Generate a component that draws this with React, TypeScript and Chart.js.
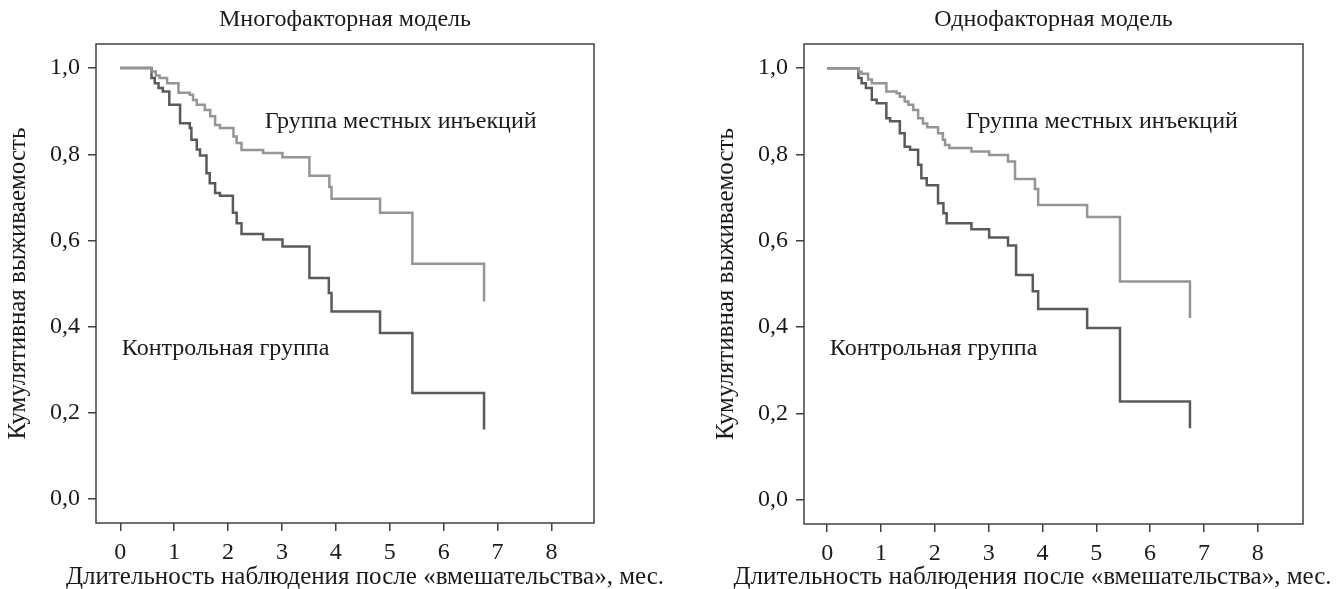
import React, { useEffect, useRef } from 'react';
import { Chart, registerables } from 'chart.js';

Chart.register(...registerables);

// ---- text ----
const titleMulti = 'Многофакторная модель';
const titleUni = 'Однофакторная модель';
const xAxisTitle = 'Длительность наблюдения после «вмешательства», мес.';
const yAxisTitle = 'Кумулятивная выживаемость';
const labelInjection = 'Группа местных инъекций';
const labelControl = 'Контрольная группа';

// ---- ticks ----
const xTickValues = [0, 1, 2, 3, 4, 5, 6, 7, 8];
const yTickValues = [0, 0.2, 0.4, 0.6, 0.8, 1.0];

// ---- multifactor model (left) ----
const multiInjTime = [0, 0.58, 0.66, 0.73, 0.87, 1.08, 1.29, 1.35, 1.42, 1.57, 1.67, 1.76, 1.85, 2.1, 2.16, 2.25, 2.65, 3.01, 3.51, 3.88, 3.92, 4.82, 5.42, 6.75];
const multiInjSurv = [1.0, 0.992, 0.983, 0.977, 0.965, 0.943, 0.938, 0.926, 0.915, 0.903, 0.888, 0.868, 0.861, 0.841, 0.826, 0.81, 0.803, 0.793, 0.75, 0.724, 0.697, 0.664, 0.546, 0.458];
const multiCtlTime = [0, 0.58, 0.64, 0.71, 0.79, 0.91, 1.11, 1.29, 1.32, 1.42, 1.48, 1.6, 1.66, 1.76, 1.85, 2.09, 2.16, 2.25, 2.65, 3.01, 3.51, 3.87, 3.92, 4.82, 5.42, 6.75];
const multiCtlSurv = [1.0, 0.977, 0.965, 0.954, 0.946, 0.915, 0.872, 0.861, 0.834, 0.811, 0.797, 0.756, 0.733, 0.71, 0.704, 0.664, 0.64, 0.615, 0.602, 0.586, 0.513, 0.478, 0.435, 0.385, 0.246, 0.161];

// ---- univariate model (right) ----
const uniInjTime = [0, 0.58, 0.64, 0.76, 0.83, 1.1, 1.29, 1.35, 1.44, 1.51, 1.6, 1.69, 1.78, 1.86, 2.06, 2.15, 2.19, 2.27, 2.68, 3.01, 3.36, 3.49, 3.86, 3.92, 4.83, 5.44, 6.74];
const uniInjSurv = [1.0, 0.992, 0.987, 0.974, 0.965, 0.946, 0.942, 0.934, 0.923, 0.915, 0.903, 0.884, 0.872, 0.863, 0.849, 0.834, 0.822, 0.815, 0.807, 0.799, 0.784, 0.743, 0.72, 0.683, 0.655, 0.506, 0.421];
const uniCtlTime = [0, 0.58, 0.64, 0.72, 0.83, 0.92, 1.1, 1.17, 1.35, 1.44, 1.54, 1.69, 1.75, 1.85, 2.06, 2.16, 2.22, 2.68, 3.01, 3.36, 3.51, 3.82, 3.92, 4.83, 5.44, 6.74];
const uniCtlSurv = [1.0, 0.977, 0.965, 0.954, 0.927, 0.919, 0.884, 0.877, 0.849, 0.818, 0.811, 0.776, 0.745, 0.729, 0.687, 0.664, 0.641, 0.627, 0.608, 0.589, 0.521, 0.483, 0.442, 0.398, 0.228, 0.166];

const FONT_FAMILY = '"Liberation Serif", "Times New Roman", serif';
const FONT_SIZE = 24;
const AXIS_TITLE_SIZE = 25;
const TEXT_COLOR = '#1a1a1a';
const AXIS_COLOR = '#404040';
const LIGHT = '#959595';
const DARK = '#5a5a5a';

const toPoints = (t: number[], s: number[]) => t.map((v, i) => ({ x: v, y: s[i] }));

const framePlugin = {
  id: 'frame',
  afterDraw(chart: any, _args: any, opts: any) {
    const { ctx, chartArea } = chart;
    const { left, top, right, bottom } = chartArea;
    const xs = chart.scales.x;
    const ys = chart.scales.y;
    ctx.save();
    ctx.strokeStyle = AXIS_COLOR;
    ctx.lineWidth = 1.5;
    ctx.strokeRect(left, top, right - left, bottom - top);
    ctx.fillStyle = TEXT_COLOR;
    ctx.textBaseline = 'middle';
    ctx.textAlign = 'left';
    ctx.font = `${FONT_SIZE}px ${FONT_FAMILY}`;
    for (const a of opts.labels || []) {
      ctx.fillText(a.text, xs.getPixelForValue(a.x), ys.getPixelForValue(a.y));
    }
    // x axis title (wider than the plot box, so drawn without width squeeze)
    ctx.font = `${AXIS_TITLE_SIZE}px ${FONT_FAMILY}`;
    ctx.textAlign = 'center';
    ctx.fillText(opts.xTitle, (left + right) / 2 + opts.xTitleShift, chart.height - 12);
    ctx.restore();
  },
};

type PanelProps = {
  title: string;
  injT: number[];
  injS: number[];
  ctlT: number[];
  ctlS: number[];
  xMin: number;
  xMax: number;
  padLeft: number;
  padRight: number;
  xHeight: number;
  xTitleShift: number;
  labels: { text: string; x: number; y: number }[];
};

function Panel(p: PanelProps) {
  const ref = useRef<HTMLCanvasElement | null>(null);
  useEffect(() => {
    if (!ref.current) return;
    const font = { family: FONT_FAMILY, size: FONT_SIZE };
    const axisTitleFont = { family: FONT_FAMILY, size: AXIS_TITLE_SIZE, lineHeight: 1 };
    const chart = new Chart(ref.current, {
      type: 'line',
      data: {
        datasets: [
          {
            data: toPoints(p.injT, p.injS),
            borderColor: LIGHT,
            borderWidth: 2.5,
            pointRadius: 0,
            stepped: 'before',
            fill: false,
          },
          {
            data: toPoints(p.ctlT, p.ctlS),
            borderColor: DARK,
            borderWidth: 2.5,
            pointRadius: 0,
            stepped: 'before',
            fill: false,
          },
        ],
      },
      options: {
        animation: false,
        responsive: false,
        devicePixelRatio: 1,
        layout: { padding: { left: p.padLeft, right: p.padRight, top: 0, bottom: 0 } },
        plugins: {
          legend: { display: false },
          tooltip: { enabled: false },
          title: {
            display: true,
            text: p.title,
            fullSize: false,
            color: TEXT_COLOR,
            font: { ...font, weight: 'normal', lineHeight: 1.2 },
            padding: { top: 5, bottom: 10.2 },
          },
          frame: { labels: p.labels, xTitle: xAxisTitle, xTitleShift: p.xTitleShift },
        } as any,
        scales: {
          x: {
            type: 'linear',
            min: p.xMin,
            max: p.xMax,
            afterBuildTicks: (s: any) => {
              s.ticks = xTickValues.map((v) => ({ value: v }));
            },
            afterFit: (s: any) => {
              s.height = p.xHeight;
            },
            ticks: { font, color: TEXT_COLOR, padding: 7, maxRotation: 0, autoSkip: false },
            grid: { display: true, drawOnChartArea: false, drawTicks: true, tickLength: 8, color: AXIS_COLOR, lineWidth: 1.5 },
            border: { display: false },
            title: { display: false },
          },
          y: {
            type: 'linear',
            min: -0.056,
            max: 1.056,
            afterBuildTicks: (s: any) => {
              s.ticks = yTickValues.map((v) => ({ value: v }));
            },
            afterFit: (s: any) => {
              s.width = 96;
            },
            ticks: {
              font,
              color: TEXT_COLOR,
              padding: 8,
              callback: (v: any) => Number(v).toFixed(1).replace('.', ','),
            },
            grid: { display: true, drawOnChartArea: false, drawTicks: true, tickLength: 8, color: AXIS_COLOR, lineWidth: 1.5 },
            border: { display: false },
            title: { display: true, text: yAxisTitle, font: axisTitleFont, color: TEXT_COLOR, padding: { top: 5.5, bottom: 0 } },
          },
        },
      } as any,
      plugins: [framePlugin],
    });
    return () => chart.destroy();
  }, []);
  return <canvas ref={ref} width={671} height={589} style={{ display: 'block', width: 671, height: 589 }} />;
}

export default function App() {
  return (
    <div style={{ position: 'absolute', left: 0, top: 0, width: 1342, height: 589, background: '#fff', display: 'flex' }}>
      <Panel
        title={titleMulti}
        injT={multiInjTime}
        injS={multiInjSurv}
        ctlT={multiCtlTime}
        ctlS={multiCtlSurv}
        xMin={-0.45}
        xMax={8.79}
        padLeft={0}
        padRight={77}
        xHeight={66}
        xTitleShift={20}
        labels={[
          { text: labelInjection, x: 2.68, y: 0.875 },
          { text: labelControl, x: 0.03, y: 0.349 },
        ]}
      />
      <Panel
        title={titleUni}
        injT={uniInjTime}
        injS={uniInjSurv}
        ctlT={uniCtlTime}
        ctlS={uniCtlSurv}
        xMin={-0.43}
        xMax={8.84}
        padLeft={37}
        padRight={39}
        xHeight={65}
        xTitleShift={-21}
        labels={[
          { text: labelInjection, x: 2.58, y: 0.876 },
          { text: labelControl, x: 0.05, y: 0.35 },
        ]}
      />
    </div>
  );
}
